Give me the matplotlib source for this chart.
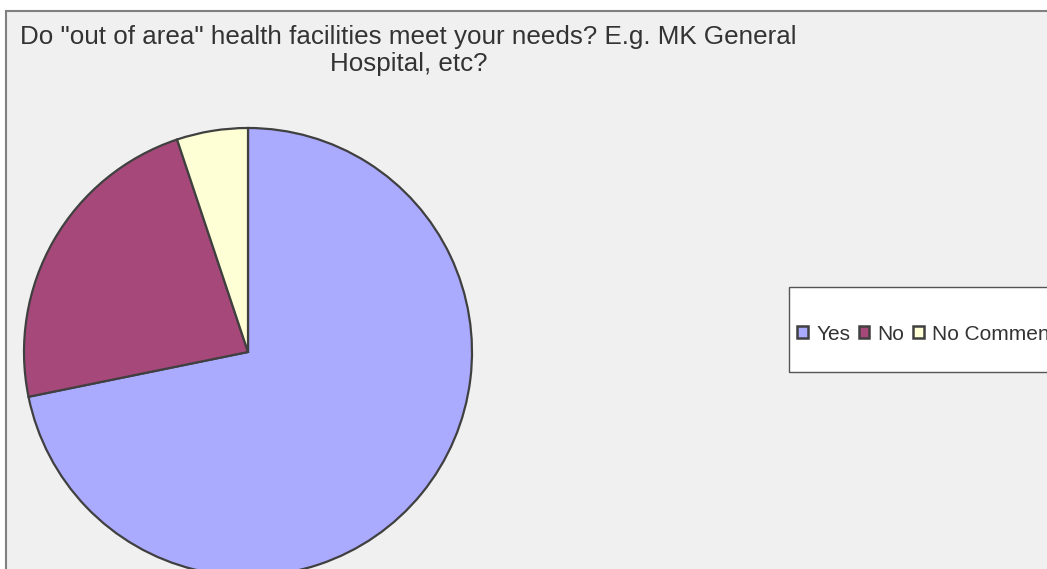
import matplotlib
matplotlib.use("Agg")
import matplotlib.pyplot as plt
from matplotlib.patches import Rectangle, Patch

plt.rcParams['font.family'] = ['Liberation Sans', 'DejaVu Sans']

labels = ['Yes', 'No', 'No Comment']
counts = [28, 9, 2]
colors = ['#aaaaff', '#a6497a', '#ffffd6']
title = 'Do "out of area" health facilities meet your needs? E.g. MK General\nHospital, etc?'

W, H = 1047, 569
fig = plt.figure(figsize=(W / 100, H / 100), dpi=100)
fig.patch.set_facecolor('white')

# chart area background with grey border
fig.add_artist(Rectangle((6 / W, -0.1), 1.1, 1 - 11 / H + 0.1, transform=fig.transFigure,
                         facecolor='#f0f0f0', edgecolor='#808080', linewidth=1.5, zorder=0))

# pie centre (248, 352) px, radius 224 px
cx, cy, r = 248, 352, 224
ax = fig.add_axes([(cx - r) / W, (H - cy - r) / H, 2 * r / W, 2 * r / H])
wedges, _ = ax.pie(counts, colors=colors, startangle=90, counterclock=False,
                   wedgeprops=dict(edgecolor='#404040', linewidth=1.6))
for w in wedges:
    w.set_clip_on(False)
ax.set_xlim(-1, 1)
ax.set_ylim(-1, 1)
ax.set_aspect('equal')
ax.axis('off')

fig.text(408.5 / W, 1 - 25 / H, title, ha='center', va='top', fontsize=18.7,
         color='#333333', linespacing=1.15)

# legend box
fig.add_artist(Rectangle((789 / W, 1 - 372 / H), 0.5, 85 / H, transform=fig.transFigure,
                         facecolor='white', edgecolor='#555555', linewidth=1.0, zorder=2))
handles = [Patch(facecolor=c, edgecolor='#404040', linewidth=1.8) for c in colors]
leg = fig.legend(handles, labels, loc='center left', ncol=3, frameon=False,
                 bbox_to_anchor=(797 / W, 1 - 334 / H), fontsize=15,
                 handlelength=0.52, handleheight=0.52, handletextpad=0.4,
                 columnspacing=0.4, borderpad=0, borderaxespad=0, labelcolor='#333333')
leg.set_zorder(3)

fig.savefig('out.png', dpi=100)
